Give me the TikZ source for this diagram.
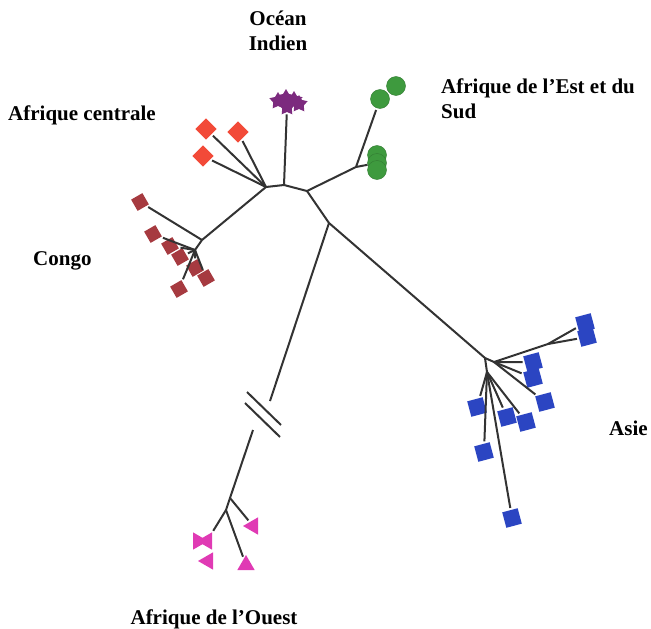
\documentclass[tikz,border=0pt]{standalone}
\usepackage{fontspec}
\setmainfont{Liberation Serif}
\usetikzlibrary{shapes.geometric}
\definecolor{brn}{HTML}{333333}
\definecolor{grn}{HTML}{3E9A3E}
\definecolor{redc}{HTML}{F24A38}
\definecolor{cong}{HTML}{A63A40}
\definecolor{blu}{HTML}{2B45C2}
\definecolor{mag}{HTML}{E03AB4}
\definecolor{pur}{HTML}{7C2A7E}
\tikzset{
  br/.style={draw=brn,line width=2pt,shorten >=2pt},
  lbl/.style={font=\fontsize{21}{25}\selectfont\bfseries,inner sep=0pt},
  gdot/.style={circle,fill=grn,draw=grn!80!black,line width=0.4pt,minimum size=19pt,inner sep=0pt},
  rsq/.style={rectangle,fill=redc,minimum size=15pt,inner sep=0pt,rotate=45},
  csq/.style={rectangle,fill=cong,minimum size=13pt,inner sep=0pt,rotate=30},
  bsq/.style={rectangle,fill=blu,minimum size=16pt,inner sep=0pt,rotate=15},
  tri/.style={regular polygon,regular polygon sides=3,fill=mag,minimum size=20pt,inner sep=0pt},
  pstar/.style={star,star points=5,star point ratio=1.8,fill=pur,minimum size=18pt,inner sep=0pt},
}
\begin{document}
\begin{tikzpicture}[x=1pt,y=-1pt]
\useasboundingbox (0,0) rectangle (651,629);
% labels
\node[lbl,align=center] (tOI) at (278,31) {Océan\\Indien};
\node[lbl,anchor=west] (tAC) at (8,115) {Afrique centrale};
\node[lbl,anchor=north west,align=left] (tAE) at (441,79) {Afrique de l’Est et du\\Sud};
\node[lbl,anchor=west] (tCg) at (33,261) {Congo};
\node[lbl,anchor=west] (tAs) at (609,428) {Asie};
\node[lbl] (tAO) at (214,619) {Afrique de l’Ouest};
% internal coordinates
\coordinate (hA) at (266,187);
\coordinate (hB) at (284,185);
\coordinate (hC) at (307,191);
\coordinate (hD) at (329,223);
\coordinate (hE) at (356,167);
\coordinate (hCg) at (202,240);
\coordinate (hCg2) at (195,250);
\coordinate (hAs) at (485,358);
\coordinate (hAs2) at (494,362);
\coordinate (hAs3) at (548,344);
\coordinate (hAs4) at (487,372);
\coordinate (w1) at (270,401);
\coordinate (w2) at (253,430);
\coordinate (hW) at (230,498);
\coordinate (hW2) at (226,510);
% leaves: Ocean Indien
\node[pstar] (p1) at (278,101) {};
\node[pstar] (p2) at (286,98) {};
\node[pstar] (p3) at (294,100) {};
\node[pstar] (p4) at (299,104) {};
\node[pstar] (p5) at (287,107) {};
% East Africa
\node[gdot] (g1) at (380,99) {};
\node[gdot] (g2) at (396,86) {};
\node[gdot] (g3) at (377,155) {};
\node[gdot] (g4) at (377,163) {};
\node[gdot] (g5) at (377,170) {};
% Central Africa
\node[rsq] (r1) at (206,129) {};
\node[rsq] (r2) at (238,132) {};
\node[rsq] (r3) at (203,156) {};
% Congo
\node[csq] (c1) at (140,202) {};
\node[csq] (c2) at (153,234) {};
\node[csq] (c3) at (170,246) {};
\node[csq] (c4) at (180,257) {};
\node[csq] (c5) at (195,268) {};
\node[csq] (c6) at (206,278) {};
\node[csq] (c7) at (179,289) {};
% Asia
\node[bsq] (a1) at (585,323) {};
\node[bsq] (a2) at (587,337) {};
\node[bsq] (a3) at (533,362) {};
\node[bsq] (a4) at (533,378) {};
\node[bsq] (a5) at (545,402) {};
\node[bsq] (a6) at (526,422) {};
\node[bsq] (a7) at (507,417) {};
\node[bsq] (a8) at (477,407) {};
\node[bsq] (a9) at (484,452) {};
\node[bsq] (a10) at (512,518) {};
% West Africa
\node[tri,rotate=-90] (m1) at (198,541) {};
\node[tri,rotate=90] (m2) at (207,541) {};
\node[tri,rotate=90] (m3) at (208,561) {};
\node[tri] (m4) at (246,565) {};
\node[tri,rotate=90] (m5) at (253,526) {};
% central tree
\draw[br,shorten >=0pt] (hA) -- (hB) -- (hC) -- (hD) -- (hAs);
\draw[br,shorten >=0pt] (hC) -- (hE);
\draw[br] (hE) -- (g1);
\draw[br,shorten >=0pt] (hE) -- (g4);
\draw[br] (hB) -- (p5);
\draw[br] (hA) -- (r1);
\draw[br] (hA) -- (r2);
\draw[br] (hA) -- (r3);
% Congo
\draw[br,shorten >=0pt] (hA) -- (hCg) -- (hCg2);
\draw[br] (hCg) -- (c1);
\draw[br] (hCg2) -- (c2);
\draw[br] (hCg2) -- (c3);
\draw[br] (hCg2) -- (c5);
\draw[br] (hCg2) -- (c4);
\draw[br] (hCg2) -- (c7);
\draw[br] (hCg2) -- (c6);
% Asia
\draw[br,shorten >=0pt] (hAs) -- (hAs2) -- (hAs3);
\draw[br] (hAs3) -- (a1);
\draw[br] (hAs3) -- (a2);
\draw[br] (hAs2) -- (a3);
\draw[br] (hAs2) -- (a4);
\draw[br] (hAs2) -- (a5);
\draw[br,shorten >=0pt] (hAs) -- (hAs4);
\draw[br] (hAs4) -- (a6);
\draw[br] (hAs4) -- (a7);
\draw[br] (hAs4) -- (a8);
\draw[br] (hAs4) -- (a9);
\draw[br] (hAs4) -- (a10);
% West Africa
\draw[br,shorten >=0pt] (hD) -- (w1);
\coordinate (s1a) at (247,392);
\coordinate (s1b) at (281,425);
\coordinate (s2a) at (245,403);
\coordinate (s2b) at (280,437);
\draw[br,shorten >=0pt] (s1a) -- (s1b);
\draw[br,shorten >=0pt] (s2a) -- (s2b);
\draw[br,shorten >=0pt] (w2) -- (hW) -- (hW2);
\draw[br] (hW) -- (m5);
\draw[br] (hW2) -- (m2);
\draw[br] (hW2) -- (m4);
\end{tikzpicture}
\end{document}
